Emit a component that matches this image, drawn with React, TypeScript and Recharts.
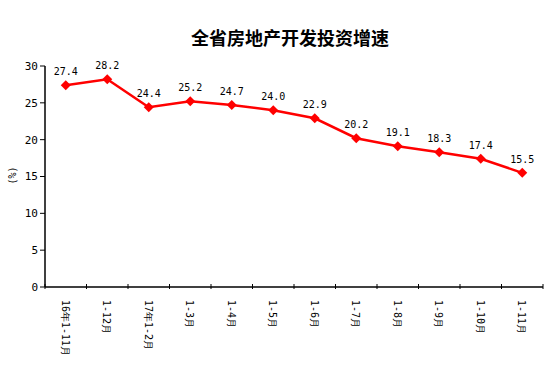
import { LineChart, Line, XAxis, YAxis, LabelList } from "recharts"

const periods = ["16年1-11月", "1-12月", "17年1-2月", "1-3月", "1-4月", "1-5月", "1-6月", "1-7月", "1-8月", "1-9月", "1-10月", "1-11月"]
const growth = [27.4, 28.2, 24.4, 25.2, 24.7, 24.0, 22.9, 20.2, 19.1, 18.3, 17.4, 15.5]
const yTicks = [0, 5, 10, 15, 20, 25, 30]

const data = periods.map((p, i) => ({ name: p, value: growth[i] }))

const font = "'DejaVu Sans Mono', monospace"

const Diamond = (props: any) => {
  const { cx, cy } = props
  if (cx == null || cy == null) return null
  const r = 5
  return <path d={`M${cx},${cy - r}L${cx + r},${cy}L${cx},${cy + r}L${cx - r},${cy}Z`} fill="#ff0000" />
}

// label at band centre, tick marks at band edges
const XTick = (props: any) => {
  const { x, y, payload, index, visibleTicksCount } = props
  const half = payload?.offset ?? 20.75
  const axisY = y - 2
  return (
    <g>
      <line x1={x - half} x2={x - half} y1={axisY} y2={axisY - 5} stroke="#000" />
      {index === visibleTicksCount - 1 && (
        <line x1={x + half} x2={x + half} y1={axisY} y2={axisY - 5} stroke="#000" />
      )}
      <text x={x} y={y} transform={`rotate(90, ${x}, ${y})`} dx={9} dy={4} fontSize={10} fontFamily={font} fill="#000" textAnchor="start">
        {payload.value}
      </text>
    </g>
  )
}

export default function App() {
  return (
    <div style={{ position: "absolute", left: 0, top: 0, width: 554, height: 367, background: "#fff" }}>
      <div style={{ position: "absolute", top: 24, left: 0, width: 580, textAlign: "center", fontSize: 18, fontWeight: "bold", fontFamily: "'Noto Sans CJK SC', sans-serif", color: "#000" }}>
        全省房地产开发投资增速
      </div>
      <div style={{ position: "absolute", left: 3, top: 170, fontSize: 10, fontFamily: font, transform: "rotate(-90deg)", color: "#000" }}>
        (%)
      </div>
      <LineChart width={554} height={367} data={data} margin={{ top: 66, right: 11, left: 0, bottom: 0 }}>
        <XAxis
          dataKey="name"
          scale="band"
          height={80}
          interval={0}
          tick={<XTick />}
          axisLine={{ stroke: "#000", strokeWidth: 1.5 }}
          tickLine={false}
          tickSize={2}
        />
        <YAxis
          width={45}
          domain={[0, 30]}
          ticks={yTicks}
          interval={0}
          axisLine={{ stroke: "#000", strokeWidth: 1.5 }}
          tickLine={{ stroke: "#000" }}
          tickSize={5}
          tick={{ fill: "#000", fontSize: 11, fontFamily: font }}
        />
        <Line
          dataKey="value"
          stroke="#ff0000"
          strokeWidth={2.5}
          dot={<Diamond />}
          activeDot={false}
          isAnimationActive={false}
        >
          <LabelList dataKey="value" position="top" offset={10} formatter={(v: any) => Number(v).toFixed(1)} style={{ fill: "#000", fontSize: 10, fontFamily: font }} />
        </Line>
      </LineChart>
    </div>
  )
}
